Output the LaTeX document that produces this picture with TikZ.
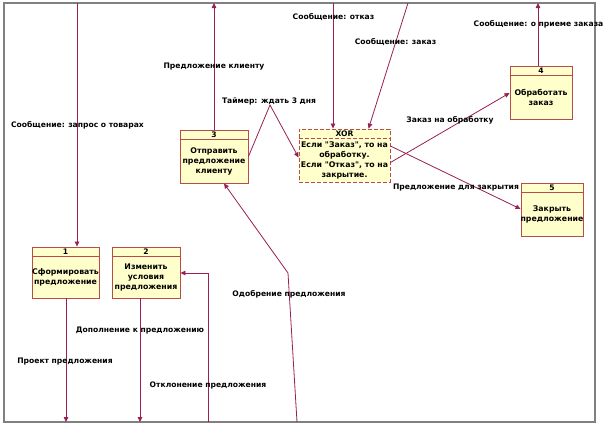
\documentclass[tikz,border=0pt]{standalone}
\usepackage{fontspec}
\setmainfont[Ligatures=TeXOff]{DejaVu Sans}
\usetikzlibrary{arrows.meta,calc}
\definecolor{linec}{RGB}{155,30,85}
\definecolor{boxc}{RGB}{185,75,75}
\definecolor{boxfill}{RGB}{255,255,204}
\definecolor{framec}{RGB}{128,128,128}
\tikzset{
  conn/.style={draw=linec, line width=0.8pt},
  arr/.style={conn, -{Triangle[length=5pt,width=4.5pt]}},
  procbox/.style={draw=boxc, fill=boxfill, line width=0.9pt, inner sep=0pt},
  xorbox/.style={procbox, dashed, dash pattern=on 4pt off 2pt},
  hdr/.style={font=\fontsize{7.6}{9.5}\selectfont\bfseries, inner sep=0pt},
  body/.style={font=\fontsize{7.8}{9.8}\selectfont\bfseries, align=center, inner sep=0pt},
  lbl/.style={font=\fontsize{7.6}{9}\selectfont\bfseries, inner sep=0pt}
}
\newcommand{\procnode}[7]{%
  % #1 name, #2 x, #3 y, #4 w, #5 h, #6 header, #7 body
  \node[procbox, minimum width=#4pt, minimum height=#5pt] (#1) at (#2,#3) {};
  \draw[boxc, line width=0.9pt] ($(#1.north west)+(0,-10pt)$) -- ($(#1.north east)+(0,-10pt)$);
  \node[hdr] (#1h) at ($(#1.north)+(0,-5pt)$) {#6};
  \node[body] (#1b) at ($(#1.south)!0.5!(#1.north)+(0,-5pt)$) {#7};
}
\begin{document}
\begin{tikzpicture}[x=1pt,y=-1pt]
\useasboundingbox (0,0) rectangle (603,429);
\fill[white] (0,0) rectangle (603,429);
\draw[framec, line width=1.5pt] (4,3) rectangle (595,422);

% boxes
\procnode{b1}{65.5}{272.5}{67}{51}{1}{Сформировать\\предложение}
\procnode{b2}{146}{272.5}{68}{51}{2}{Изменить\\условия\\предложения}
\procnode{b3}{214}{156.5}{68}{53}{3}{Отправить\\предложение\\клиенту}
\procnode{b4}{541}{92.5}{62}{53}{4}{Обработать\\заказ}
\procnode{b5}{552}{209.5}{62}{53}{5}{Закрыть\\предложение}

\node[xorbox, minimum width=91pt, minimum height=53pt] (x) at (344.5,155.5) {};
\draw[boxc, line width=0.9pt, dash pattern=on 4pt off 2pt] ($(x.north west)+(0,-10pt)$) -- ($(x.north east)+(0,-10pt)$);
\node[hdr] (xh) at ($(x.north)+(0,-5pt)$) {XOR};
\node[body] (xb) at ($(x.south)!0.5!(x.north)+(0,-5pt)$) {Если "Заказ", то на\\обработку.\\Если "Отказ", то на\\закрытие.};

% border coordinates
\coordinate (t1) at (77,3);
\coordinate (t2) at (214,3);
\coordinate (t4) at (333,3);
\coordinate (t5) at (408,3);
\coordinate (t8) at (538,3);
\coordinate (d9) at (66,422);
\coordinate (d10) at (140,422);
\coordinate (d11) at (208,422);
\coordinate (d12) at (297,422);
\coordinate (k3) at (270,105);
\coordinate (k11) at (208,273);
\coordinate (k12) at (288,273);

% connectors
\draw[arr] (t1) -- (t1 |- b1.north);
\draw[arr] (b3.north) -- (t2);
\draw[arr] (b3.east) -- (k3) -- ($(x.west)+(0,-2pt)$);
\draw[arr] (t4) -- (t4 |- x.north);
\draw[arr] (t5) -- ($(x.north west)+(70,0)$);
\draw[arr] ($(x.east)+(0,-7pt)$) -- ($(b4.west)+(0,-0.5pt)$);
\draw[arr] ($(x.east)+(0,9.5pt)$) -- ($(b5.west)+(0,0.5pt)$);
\draw[arr] (t8 |- b4.north) -- (t8);
\draw[arr] (d9 |- b1.south) -- (d9);
\draw[arr] (d10 |- b2.south) -- (d10);
\draw[arr] (d11) -- (k11) -- (k11 -| b2.east);
\draw[arr] (d12) -- (k12) -- ($(b3.south)+(10,0)$);

% labels
\node[lbl] at (77.5,125.5) {Сообщение: запрос о товарах};
\node[lbl] at (214,66.5) {Предложение клиенту};
\node[lbl] at (269,101) {Таймер: ждать 3 дня};
\node[lbl] at (333.5,17.3) {Сообщение: отказ};
\node[lbl] at (395.5,41.7) {Сообщение: заказ};
\node[lbl] at (538.5,24.3) {Сообщение: о приеме заказа};
\node[lbl] at (450,120.7) {Заказ на обработку};
\node[lbl] at (456,187.7) {Предложение для закрытия};
\node[lbl] at (289,294) {Одобрение предложения};
\node[lbl] at (140,331) {Дополнение к предложению};
\node[lbl] at (65,361.7) {Проект предложения};
\node[lbl] at (208,385) {Отклонение предложения};
\end{tikzpicture}
\end{document}
